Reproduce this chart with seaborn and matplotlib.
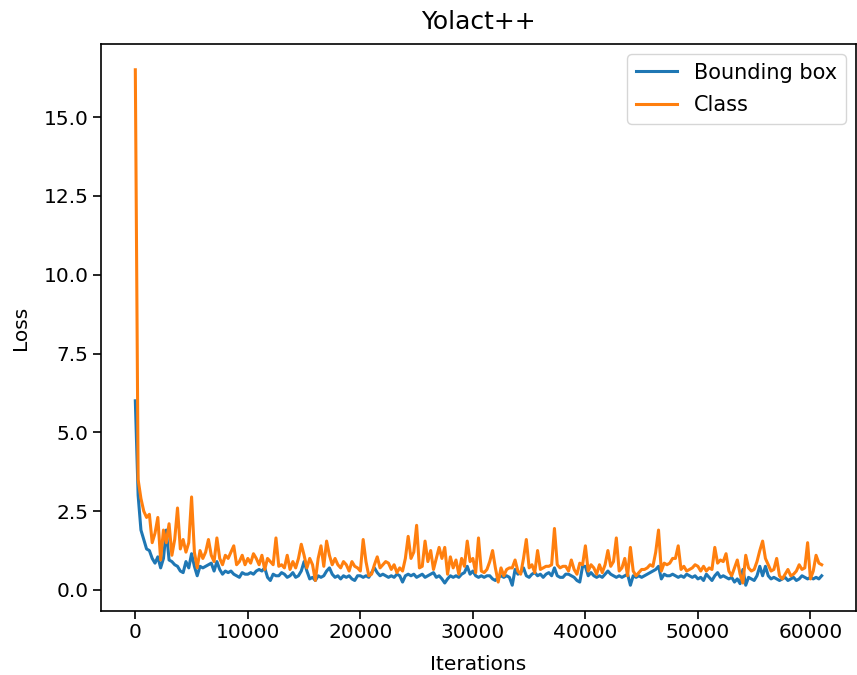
import numpy as np
import pandas as pd
import matplotlib
matplotlib.use("Agg")
import matplotlib.pyplot as plt
import seaborn as sns

# Training iterations, logged every 250 steps
step = 250
last_iter = 61000

bbox_loss = [
    6.0, 3.0, 1.9, 1.6, 1.3, 1.25, 1.0, 0.85, 1.05, 0.7, 1.0, 1.9, 0.95, 0.9, 0.8, 0.75, 0.6, 0.55, 0.9, 0.7,
    1.15, 0.75, 0.45, 0.75, 0.7, 0.75, 0.8, 0.85, 0.6, 0.9, 0.65, 0.5, 0.6, 0.55, 0.6, 0.5, 0.45, 0.4, 0.55, 0.5,
    0.5, 0.55, 0.5, 0.6, 0.65, 0.6, 0.7, 0.4, 0.3, 0.5, 0.45, 0.45, 0.55, 0.5, 0.4, 0.45, 0.55, 0.4, 0.45, 0.6,
    0.9, 0.6, 0.35, 0.4, 0.3, 0.45, 0.4, 0.45, 0.6, 0.7, 0.5, 0.4, 0.45, 0.35, 0.45, 0.4, 0.45, 0.35, 0.3, 0.45,
    0.45, 0.4, 0.45, 0.4, 0.55, 0.7, 0.55, 0.45, 0.5, 0.45, 0.4, 0.45, 0.4, 0.5, 0.45, 0.25, 0.45, 0.5, 0.45, 0.5,
    0.4, 0.45, 0.5, 0.4, 0.45, 0.5, 0.55, 0.4, 0.45, 0.35, 0.22, 0.35, 0.45, 0.4, 0.45, 0.4, 0.5, 0.55, 0.75, 0.5,
    0.6, 0.45, 0.4, 0.45, 0.4, 0.45, 0.45, 0.35, 0.3, 0.4, 0.45, 0.4, 0.45, 0.4, 0.15, 0.65, 0.5, 0.55, 0.7, 0.45,
    0.4, 0.5, 0.55, 0.45, 0.5, 0.4, 0.5, 0.55, 0.45, 0.7, 0.45, 0.4, 0.4, 0.5, 0.5, 0.45, 0.4, 0.3, 0.25, 0.75,
    0.75, 0.45, 0.55, 0.45, 0.4, 0.45, 0.4, 0.5, 0.6, 0.5, 0.45, 0.4, 0.45, 0.4, 0.45, 0.5, 0.15, 0.45, 0.4, 0.45,
    0.4, 0.45, 0.5, 0.55, 0.6, 0.65, 0.75, 0.35, 0.5, 0.45, 0.45, 0.5, 0.45, 0.4, 0.45, 0.4, 0.5, 0.45, 0.4, 0.45,
    0.35, 0.4, 0.3, 0.5, 0.4, 0.3, 0.45, 0.55, 0.4, 0.45, 0.4, 0.35, 0.4, 0.25, 0.35, 0.2, 0.65, 0.15, 0.4, 0.35,
    0.3, 0.45, 0.75, 0.45, 0.75, 0.45, 0.35, 0.4, 0.35, 0.3, 0.35, 0.4, 0.3, 0.35, 0.4, 0.3, 0.35, 0.45, 0.4, 0.35,
    0.4, 0.35, 0.4, 0.35, 0.45,
]

class_loss = [
    16.5, 3.5, 2.9, 2.5, 2.3, 2.4, 1.5, 1.8, 2.3, 0.95, 1.9, 1.5, 2.1, 1.1, 1.6, 2.6, 1.3, 1.6, 1.2, 1.5,
    2.95, 1.2, 0.7, 1.25, 1.0, 1.2, 1.6, 1.1, 0.9, 1.65, 1.0, 0.8, 1.1, 1.0, 1.2, 1.4, 0.8, 0.9, 1.1, 0.8,
    1.0, 0.85, 1.15, 1.0, 0.8, 1.1, 0.65, 1.0, 0.9, 0.8, 1.65, 0.75, 0.8, 0.7, 1.1, 0.65, 0.9, 0.7, 1.0, 1.45,
    1.1, 0.7, 1.0, 0.8, 0.3, 1.0, 1.4, 0.75, 1.55, 1.1, 0.8, 1.0, 0.8, 0.7, 0.9, 0.8, 0.6, 0.9, 0.75, 0.7,
    0.6, 1.6, 0.9, 0.45, 0.5, 0.8, 1.05, 0.7, 0.8, 0.9, 0.85, 0.65, 0.8, 0.55, 0.7, 0.6, 1.0, 1.7, 1.0, 1.2,
    2.05, 0.7, 0.75, 1.55, 0.9, 1.25, 0.65, 1.0, 1.35, 1.0, 1.35, 0.5, 1.05, 0.7, 0.95, 0.5, 1.0, 0.75, 1.55, 0.9,
    1.0, 0.55, 1.65, 0.6, 0.55, 0.65, 0.9, 1.25, 0.7, 0.25, 0.7, 0.45, 0.65, 0.7, 0.7, 0.95, 0.6, 0.5, 1.0, 1.6,
    0.7, 0.8, 0.55, 1.25, 0.65, 0.7, 0.75, 0.75, 0.8, 1.95, 0.8, 0.7, 0.75, 0.75, 0.6, 0.95, 0.65, 0.5, 0.85, 0.8,
    1.4, 0.6, 0.8, 0.7, 0.5, 0.8, 0.55, 0.8, 1.25, 0.75, 0.9, 1.65, 0.6, 0.7, 1.0, 0.45, 1.35, 0.6, 0.45, 0.55,
    0.65, 0.65, 0.7, 0.8, 0.75, 1.2, 1.9, 0.6, 0.85, 0.8, 0.85, 1.0, 1.0, 1.4, 0.65, 0.75, 0.6, 0.65, 0.7, 0.8,
    0.75, 0.6, 0.75, 0.6, 0.7, 0.65, 1.35, 0.85, 0.95, 0.9, 1.15, 0.6, 0.45, 0.7, 0.95, 0.5, 0.22, 1.1, 0.7, 0.6,
    0.65, 0.9, 1.25, 1.55, 1.0, 0.8, 0.6, 0.65, 1.0, 0.45, 0.35, 0.5, 0.65, 0.45, 0.5, 0.6, 0.8, 0.65, 0.7, 1.5,
    0.35, 0.6, 1.1, 0.85, 0.8,
]

iterations = np.arange(0, last_iter + 1, step)

df = pd.concat([
    pd.DataFrame({"Iterations": iterations, "Loss": bbox_loss, "series": "Bounding box"}),
    pd.DataFrame({"Iterations": iterations, "Loss": class_loss, "series": "Class"}),
])

fs = 14.5
plt.rcParams.update({
    "font.family": ["DejaVu Sans"],
    "font.size": fs,
})

fig = plt.figure(figsize=(8.57, 6.75), dpi=100)
ax = fig.add_axes([101 / 857, 1 - 611 / 675, (856 - 101) / 857, (611 - 44) / 675])

sns.lineplot(
    data=df, x="Iterations", y="Loss", hue="series",
    palette={"Bounding box": "#1f77b4", "Class": "#ff7f0e"},
    linewidth=2.2, ax=ax,
)

ax.set_title("Yolact++", fontsize=18, pad=11)
ax.set_xlabel("Iterations", fontsize=fs, labelpad=9)
ax.set_ylabel("Loss", fontsize=fs, labelpad=10)
ax.tick_params(labelsize=fs, width=1.2, length=5.5)
ax.set_yticks([0.0, 2.5, 5.0, 7.5, 10.0, 12.5, 15.0])
ax.set_xticks([0, 10000, 20000, 30000, 40000, 50000, 60000])
for s in ax.spines.values():
    s.set_linewidth(1.2)
    s.set_color("black")

leg = ax.legend(loc="upper right", fontsize=15, title=None,
                borderaxespad=0.5, labelspacing=0.6)

fig.savefig("out.png", dpi=100)
